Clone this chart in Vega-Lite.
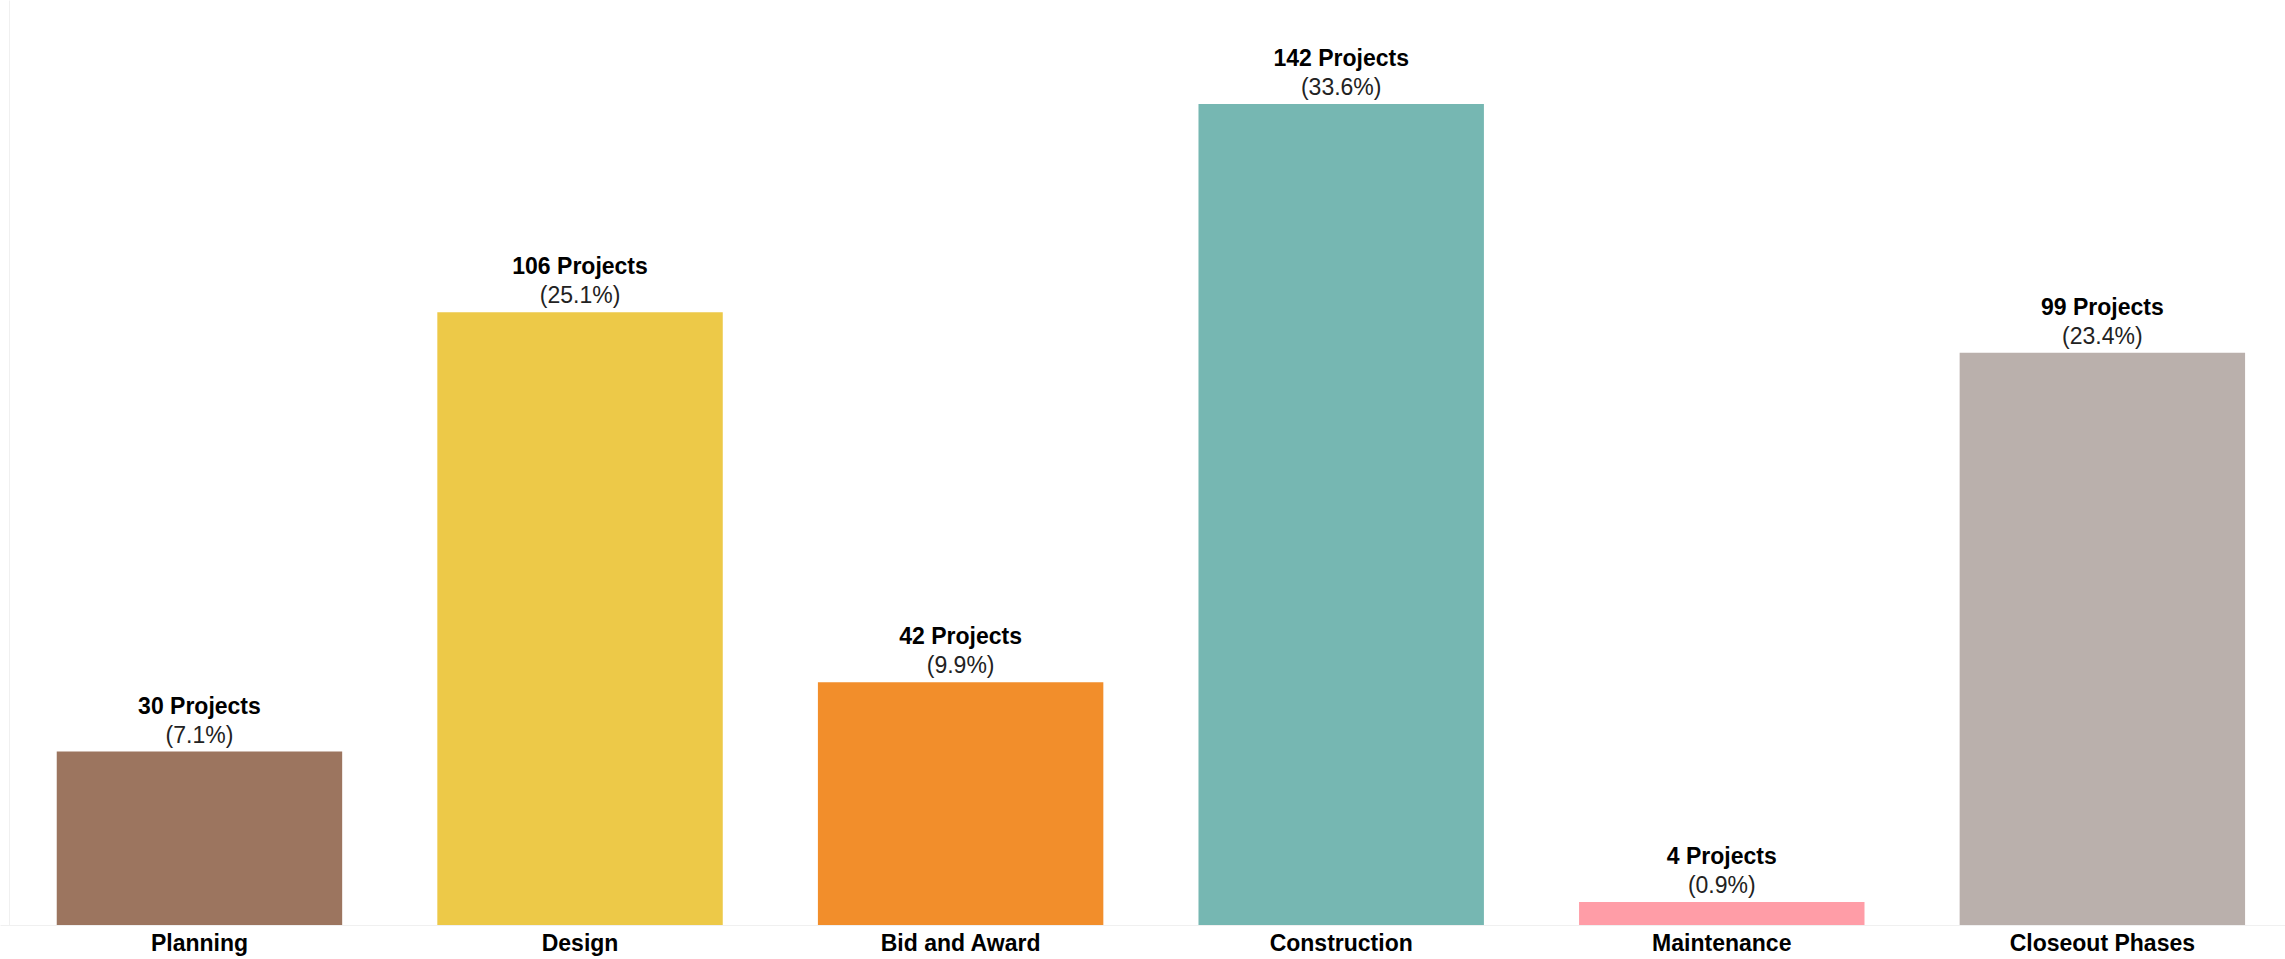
{
  "$schema": "https://vega.github.io/schema/vega-lite/v6.json",
  "autosize": "none",
  "width": 2285,
  "height": 925,
  "padding": {"left": 0, "top": 0, "right": 0, "bottom": 34},
  "background": "white",
  "config": {"view": {"stroke": null}, "font": "Liberation Sans"},
  "data": {
    "values": [
      {"phase": "Planning", "count": 30, "countLabel": "30 Projects", "pctLabel": "(7.1%)"},
      {"phase": "Design", "count": 106, "countLabel": "106 Projects", "pctLabel": "(25.1%)"},
      {"phase": "Bid and Award", "count": 42, "countLabel": "42 Projects", "pctLabel": "(9.9%)"},
      {"phase": "Construction", "count": 142, "countLabel": "142 Projects", "pctLabel": "(33.6%)"},
      {"phase": "Maintenance", "count": 4, "countLabel": "4 Projects", "pctLabel": "(0.9%)"},
      {"phase": "Closeout Phases", "count": 99, "countLabel": "99 Projects", "pctLabel": "(23.4%)"}
    ]
  },
  "encoding": {
    "x": {
      "field": "phase",
      "type": "nominal",
      "sort": null,
      "scale": {"paddingInner": 0.25, "paddingOuter": 0.127, "align": 0.587},
      "axis": {
        "title": null,
        "ticks": false,
        "labelAngle": 0,
        "labelLimit": 0,
        "labelFont": "Liberation Sans",
        "labelFontSize": 23,
        "labelFontWeight": "bold",
        "labelColor": "#000000",
        "labelPadding": 7,
        "domainColor": "#f0f0f0",
        "domainWidth": 1
      }
    },
    "y": {
      "field": "count",
      "type": "quantitative",
      "scale": {"domain": [0, 160], "nice": false},
      "axis": {
        "title": null,
        "labels": false,
        "ticks": false,
        "grid": false,
        "domainColor": "#f0f0f0",
        "offset": -9
      }
    }
  },
  "layer": [
    {
      "mark": {"type": "bar"},
      "encoding": {
        "color": {
          "field": "phase",
          "type": "nominal",
          "sort": null,
          "legend": null,
          "scale": {
            "domain": ["Planning", "Design", "Bid and Award", "Construction", "Maintenance", "Closeout Phases"],
            "range": ["#9C755F", "#EDC948", "#F28E2B", "#76B7B2", "#FF9DA7", "#BAB0AC"]
          }
        }
      }
    },
    {
      "mark": {"type": "text", "baseline": "alphabetic", "dy": -38, "fontSize": 23, "fontWeight": "bold", "font": "Liberation Sans", "color": "#000000"},
      "encoding": {"text": {"field": "countLabel"}}
    },
    {
      "mark": {"type": "text", "baseline": "alphabetic", "dy": -9, "fontSize": 23, "font": "Liberation Sans", "color": "#222222"},
      "encoding": {"text": {"field": "pctLabel"}}
    }
  ]
}
